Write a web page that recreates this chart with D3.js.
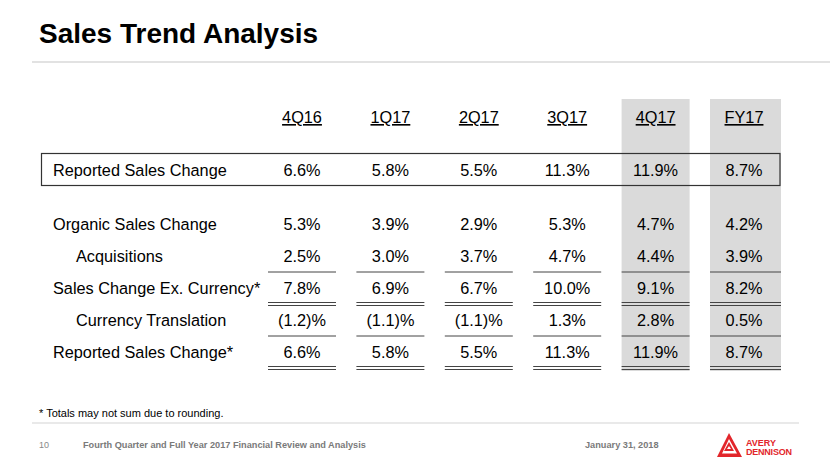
<!DOCTYPE html>
<html><head><meta charset="utf-8">
<script src="https://cdn.jsdelivr.net/npm/d3@7/dist/d3.min.js"></script>
<style>html,body{margin:0;padding:0;background:#fff;}svg{display:block;font-family:"Liberation Sans",Arial,sans-serif;}</style>
</head><body>
<script>
const columns = ["4Q16","1Q17","2Q17","3Q17","4Q17","FY17"];
const highlighted = ["4Q17","FY17"];
const reportedTop = [6.6, 5.8, 5.5, 11.3, 11.9, 8.7];
const rowLabels = ["Organic Sales Change","Acquisitions","Sales Change Ex. Currency*","Currency Translation","Reported Sales Change*"];
const rowIndent = [false, true, false, true, false];
const rowRule = ["none","single","double","single","double"];
const organic = [5.3, 3.9, 2.9, 5.3, 4.7, 4.2];
const acquisitions = [2.5, 3.0, 3.7, 4.7, 4.4, 3.9];
const exCurrency = [7.8, 6.9, 6.7, 10.0, 9.1, 8.2];
const currency = [-1.2, -1.1, -1.1, 1.3, 2.8, 0.5];
const reported = [6.6, 5.8, 5.5, 11.3, 11.9, 8.7];
const rows = [organic, acquisitions, exCurrency, currency, reported];

const W = 830, H = 467;
const svg = d3.select("body").append("svg").attr("width", W).attr("height", H);

const x = d3.scalePoint().domain(columns).range([302, 744]);
const y = d3.scalePoint().domain(rowLabels).range([224, 352]);
const fmt = v => v < 0 ? `(${Math.abs(v).toFixed(1)})%` : `${v.toFixed(1)}%`;
const half = 34;
const FS = 16.3;

// gray highlight columns
svg.selectAll("rect.hl").data(highlighted).join("rect")
  .attr("x", d => x(d) - half).attr("y", 99)
  .attr("width", d => d === "FY17" ? 71 : 68).attr("height", 272)
  .attr("fill", "#dadada");

// title
svg.append("text").attr("x", 39).attr("y", 43).attr("font-size", 28).attr("font-weight", "bold")
  .attr("fill", "#000").text("Sales Trend Analysis");
svg.append("line").attr("x1", 32).attr("x2", 830).attr("y1", 62).attr("y2", 62)
  .attr("stroke", "#e2e2e2").attr("stroke-width", 2);

// headers
svg.selectAll("text.hdr").data(columns).join("text")
  .attr("x", d => x(d)).attr("y", 123).attr("text-anchor", "middle")
  .attr("font-size", FS).attr("fill", "#000").attr("text-decoration", "underline").text(d => d);

// reported box
svg.append("rect").attr("x", 41.5).attr("y", 153.5).attr("width", 738.5).attr("height", 32)
  .attr("fill", "none").attr("stroke", "#333").attr("stroke-width", 1.2);
svg.append("text").attr("x", 53).attr("y", 176).attr("font-size", FS).attr("fill", "#000").text("Reported Sales Change");
svg.selectAll("text.top").data(reportedTop).join("text")
  .attr("x", (d, i) => x(columns[i])).attr("y", 176).attr("text-anchor", "middle")
  .attr("font-size", FS).attr("fill", "#000").text(fmt);

// body rows
rows.forEach((vals, r) => {
  const lab = rowLabels[r];
  const yy = y(lab);
  svg.append("text").attr("x", rowIndent[r] ? 76 : 53).attr("y", yy + 6)
    .attr("font-size", FS).attr("fill", "#000").text(lab);
  svg.selectAll(null).data(vals).join("text")
    .attr("x", (d, i) => x(columns[i])).attr("y", yy + 6).attr("text-anchor", "middle")
    .attr("font-size", FS).attr("fill", "#000").text(fmt);
  const rule = rowRule[r];
  const ry = yy + 16;
  const offs = rule === "single" ? [0] : rule === "double" ? [-1.5, 1.5] : [];
  offs.forEach(o => {
    svg.selectAll(null).data(columns).join("line")
      .attr("x1", d => x(d) - half).attr("x2", d => x(d) + (d === "FY17" ? 37 : half))
      .attr("y1", ry + o).attr("y2", ry + o)
      .attr("stroke", "#444").attr("stroke-width", 1);
  });
});

// footnote & footer
svg.append("text").attr("x", 39).attr("y", 417).attr("font-size", 11).attr("fill", "#000")
  .text("* Totals may not sum due to rounding.");
svg.append("line").attr("x1", 32).attr("x2", 799).attr("y1", 423).attr("y2", 423)
  .attr("stroke", "#e2e2e2").attr("stroke-width", 1.5);
svg.append("text").attr("x", 39).attr("y", 448).attr("font-size", 9).attr("fill", "#888").text("10");
svg.append("text").attr("x", 83).attr("y", 448).attr("font-size", 9.2).attr("font-weight", "bold")
  .attr("fill", "#7a7a7a").text("Fourth Quarter and Full Year 2017 Financial Review and Analysis");
svg.append("text").attr("x", 585).attr("y", 448).attr("font-size", 9.2).attr("font-weight", "bold")
  .attr("fill", "#7a7a7a").text("January 31, 2018");

// logo
const logo = svg.append("g").attr("transform", "translate(717,433)");
logo.append("path").attr("d", "M12,0 L25,24 L0,24 Z M12,6 L20,20.5 L5,20.5 Z")
  .attr("fill", "#e2262b").attr("fill-rule", "evenodd");
logo.append("path").attr("d", "M12,9 L17,18 L7,18 Z M12,13 L14,16 L10,16 Z")
  .attr("fill", "#e2262b").attr("fill-rule", "evenodd");
logo.append("text").attr("x", 29).attr("y", 13).attr("font-size", 9).attr("font-weight", "bold")
  .attr("fill", "#e2262b").text("AVERY");
logo.append("text").attr("x", 29).attr("y", 22).attr("font-size", 9).attr("font-weight", "bold")
  .attr("fill", "#e2262b").attr("textLength", 46).text("DENNISON");
</script>
</body></html>
